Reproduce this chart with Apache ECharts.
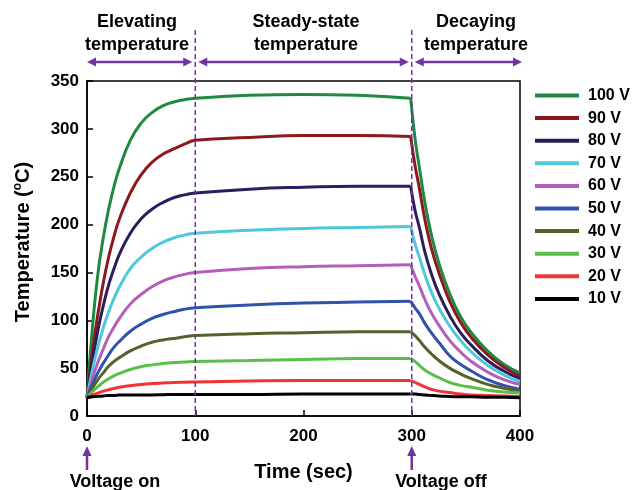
<!DOCTYPE html>
<html><head><meta charset="utf-8">
<script src="https://cdn.jsdelivr.net/npm/echarts/dist/echarts.min.js"></script>
<style>html,body{margin:0;padding:0;background:#fff}#c{width:636px;height:490px}</style>
</head><body><div id="c"></div>
<script>
// ---- data ----
// heating phase (voltage on) and cooling phase (voltage off) sample times, seconds
const riseTime  = [0,5,10,15,20,25,30,40,50,60,70,80,90,100,150,200,250,299];
const decayTime = [299,303,307,312,318,325,335,345,355,370,385,400];
// temperatures (°C) at riseTime
const rise100 = [19,92,148,186,216,240,259,288,306,317,324,328,330.5,332,335,336,335,332];
const rise90  = [19,67,106,139,166,188,206,233,252,265,273.5,279,284,288,291,293,293,292];
const rise80  = [19,57,89,115,137,154,169,191,206,216,223,228,231,233,237,239,240,240];
const rise70  = [19,48,72,92,109,123,135,154,166,175,181.5,186,189,191,194,196,197,198];
const rise60  = [19,39,56,70,83,93,102,117,127,135,141,145,148,150,154,156,157,158];
const rise50  = [19,33,45,55,64,72,78,88.5,96,102,106,109,111.5,113,116,118,119,120];
const rise40  = [19,29,38,45,52,57,61,68,73,77,79.5,81,82.7,84,86,87,88,88];
const rise30  = [19,25.4,30.7,35.2,39,42,44.6,48.6,51.5,53.4,54.8,55.8,56.4,57,58,59,60,60];
const rise20  = [19,21.7,24,26,27.5,28.8,30,31.7,33,33.9,34.5,35,35.3,35.5,36.5,37,37,37];
const rise10  = [19,20,20.5,21,21.5,21.5,22,22,22,22,22.2,22.5,22.5,22.5,22.5,23,23,23];
// temperatures (°C) at decayTime
const decay100 = [332,290,260,224,190,160,128,104,87,68,54,45];
const decay90  = [292,262,238,206,176,150,120,98,82,64,51,42];
const decay80  = [240,215,197,172,149,128,105,87,74,58,47,39];
const decay70  = [198,180,166,148,130,113,94,79,67,53,43,36];
const decay60  = [158,146,136,122,108,95,79,67,57,46,38,33];
const decay50  = [120,113,107,97,87,77,63,54,47,38,32,28];
const decay40  = [88,84,79,72,65,58,50,44,39,33,29,26];
const decay30  = [60,57,53,48,44,40,35,32,30,27,25,24];
const decay20  = [37,35,33,30.5,28,26,24.5,23,22,21.5,21,20.5];
const decay10  = [23,23,22.5,22,21.5,21,20.5,20,20,19.5,19.5,19];

const seriesNames = ['100 V','90 V','80 V','70 V','60 V','50 V','40 V','30 V','20 V','10 V'];
const riseValues  = [rise100,rise90,rise80,rise70,rise60,rise50,rise40,rise30,rise20,rise10];
const decayValues = [decay100,decay90,decay80,decay70,decay60,decay50,decay40,decay30,decay20,decay10];
const seriesColors = ['#1f8a3f','#8b1a1e','#2e1d5c','#4fc8dc','#b35fb9','#2f52ac','#56622a','#58c04a','#ef3434','#000000'];
const xTicks = [0,100,200,300,400];
const yTicks = [0,50,100,150,200,250,300,350];
const phaseBounds = [0,100,300,400];
const phaseLabels = ['Elevating\ntemperature','Steady-state\ntemperature','Decaying\ntemperature'];
const eventTimes = [0,300];
const eventLabels = ['Voltage on','Voltage off'];

const FONT = 'Liberation Sans, Arial, sans-serif';
const PURPLE = '#7433a3';
const chart = echarts.init(document.getElementById('c'), null, {renderer:'canvas'});

const series = [];
seriesNames.forEach((n,i)=>{
  const common = {name:n, type:'line', showSymbol:false, symbol:'none', smooth:0.5,
    lineStyle:{width:3, color:seriesColors[i]}, itemStyle:{color:seriesColors[i]}, z:3, zlevel:0};
  series.push(Object.assign({}, common, {data: riseTime.map((t,k)=>[t, riseValues[i][k]])}));
  series.push(Object.assign({}, common, {data: decayTime.map((t,k)=>[t, decayValues[i][k]])}));
});

chart.setOption({
  animation:false,
  backgroundColor:'#fff',
  grid:{left:87, right:116, top:81, bottom:74, show:true, borderColor:'#000', borderWidth:1.5, backgroundColor:'transparent'},
  xAxis:{type:'value', min:xTicks[0], max:xTicks[xTicks.length-1], interval:100,
    axisLine:{show:true, onZero:false, lineStyle:{color:'#000', width:1.5}},
    axisTick:{show:true, inside:true, length:6, lineStyle:{color:'#000', width:1.5}},
    axisLabel:{color:'#000', fontSize:17, fontWeight:'bold', fontFamily:FONT, margin:12},
    splitLine:{show:false},
    name:'Time (sec)', nameLocation:'middle', nameGap:46,
    nameTextStyle:{color:'#000', fontSize:20, fontWeight:'bold', fontFamily:FONT}},
  yAxis:{type:'value', min:yTicks[0], max:yTicks[yTicks.length-1], interval:50,
    axisLine:{show:true, lineStyle:{color:'#000', width:1.5}},
    axisTick:{show:true, inside:true, length:6, lineStyle:{color:'#000', width:1.5}},
    axisLabel:{color:'#000', fontSize:17, fontWeight:'bold', fontFamily:FONT, margin:8},
    splitLine:{show:false},
    name:'{a|Temperature (}{b|o}{a|C)}', nameLocation:'middle', nameGap:53,
    nameTextStyle:{color:'#000', fontFamily:FONT, padding:[0,0,0,13], rich:{
      a:{fontSize:20, fontWeight:'bold', fontFamily:FONT, color:'#000'},
      b:{fontSize:12, fontWeight:'bold', fontFamily:FONT, color:'#000', padding:[0,0,10,0]}}}},
  legend:{orient:'vertical', left:535, top:87, padding:0, itemWidth:44, itemHeight:4, itemGap:5.6, icon:'rect',
    data:seriesNames,
    textStyle:{color:'#000', fontSize:16, fontWeight:'bold', fontFamily:FONT, lineHeight:17, padding:[0,0,0,4]}},
  series: series
});

// annotations positioned through the chart's scales
const px = v => chart.convertToPixel({gridIndex:0}, [v, 0]);
const yBottom = px(0)[1];
const g = [];
const arrowY = 62;
[phaseBounds[1], phaseBounds[2]].forEach(t=>{
  const x = px(t)[0];
  g.push({type:'line', shape:{x1:x, y1:30, x2:x, y2:yBottom}, style:{stroke:PURPLE, lineWidth:1.5, lineDash:[5,3]}, z:50});
});
function headH(x, y, dir){
  return {type:'polygon', shape:{points:[[x,y],[x-dir*9,y-4.5],[x-dir*9,y+4.5]]}, style:{fill:PURPLE}, z:50};
}
for(let i=0;i<3;i++){
  const xa = px(phaseBounds[i])[0] + (i===0?0:3);
  const xb = px(phaseBounds[i+1])[0] - (i===2?-2:3);
  g.push({type:'line', shape:{x1:xa+4, y1:arrowY, x2:xb-4, y2:arrowY}, style:{stroke:PURPLE, lineWidth:2.5}, z:50});
  g.push(headH(xa, arrowY, -1));
  g.push(headH(xb, arrowY, 1));
  const cx = [137, 306, 476][i];
  g.push({type:'text', x:cx, y:34, style:{text:phaseLabels[i], fill:'#000', font:'bold 18px '+FONT, align:'center', verticalAlign:'middle', lineHeight:23}, z:50});
}
eventTimes.forEach((t,i)=>{
  const x = px(t)[0];
  g.push({type:'line', shape:{x1:x, y1:470, x2:x, y2:455}, style:{stroke:PURPLE, lineWidth:2.5}, z:50});
  g.push({type:'polygon', shape:{points:[[x,446],[x-4.5,456],[x+4.5,456]]}, style:{fill:PURPLE}, z:50});
  g.push({type:'text', x:[115,441][i], y:482, style:{text:eventLabels[i], fill:'#000', font:'bold 18px '+FONT, align:'center', verticalAlign:'middle'}, z:50});
});
chart.setOption({graphic:g});
</script>
</body></html>
